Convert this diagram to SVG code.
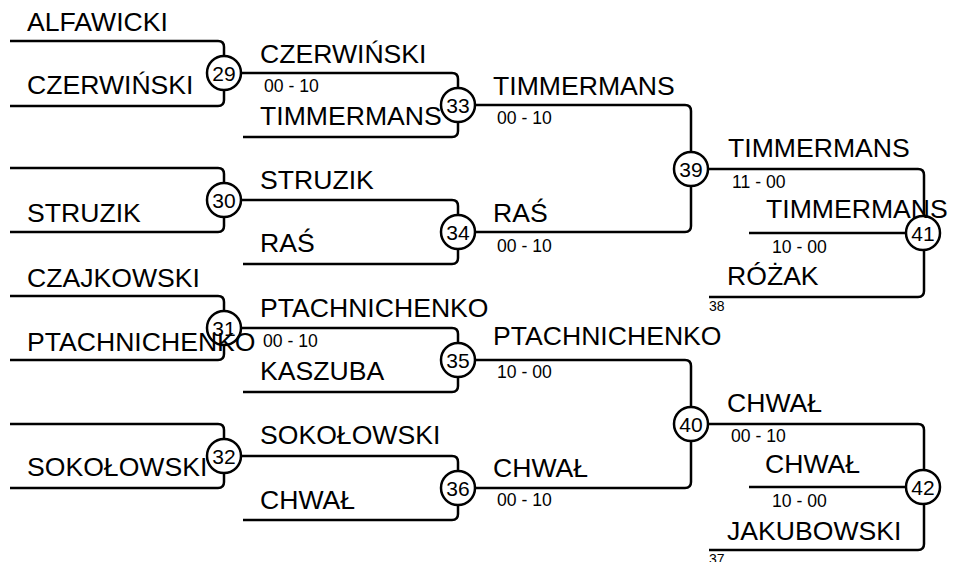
<svg xmlns="http://www.w3.org/2000/svg" width="954" height="562" viewBox="0 0 954 562">
<style>
.c{fill:none;stroke:#000;stroke-width:2.5;stroke-linejoin:round}
.n circle{fill:#fff;stroke:#000;stroke-width:2.5}
.n text{font-family:"Liberation Sans",Arial,sans-serif;font-size:21px;text-anchor:middle;fill:#000}
.t{font-family:"Liberation Sans",Arial,sans-serif;font-size:26.6px;fill:#000}
.s{font-family:"Liberation Sans",Arial,sans-serif;font-size:17.6px;fill:#000}
.m{font-family:"Liberation Sans",Arial,sans-serif;font-size:14px;fill:#000}
</style>
<rect width="954" height="562" fill="#fff"/>
<g id="connectors" class="c">
<path d="M10,41 H218 Q224,41 224,47 V100 Q224,106 218,106 H10"/>
<path d="M10,168 H218 Q224,168 224,174 V226 Q224,232 218,232 H10"/>
<path d="M10,296 H218 Q224,296 224,302 V354 Q224,360 218,360 H10"/>
<path d="M10,424 H218 Q224,424 224,430 V482 Q224,488 218,488 H10"/>
<path d="M224,73 H452 Q458,73 458,79 V131 Q458,137 452,137 H243"/>
<path d="M224,200 H452 Q458,200 458,206 V258 Q458,264 452,264 H243"/>
<path d="M224,328 H452 Q458,328 458,334 V386 Q458,392 452,392 H243"/>
<path d="M224,456 H452 Q458,456 458,462 V514 Q458,520 452,520 H243"/>
<path d="M458,105 H685 Q691,105 691,111 V226 Q691,232 685,232 H458"/>
<path d="M458,360 H685 Q691,360 691,366 V482 Q691,488 685,488 H458"/>
<path d="M691,169 H918 Q924,169 924,175 V291 Q924,297 918,297 H709"/>
<path d="M749,233 H924"/>
<path d="M691,424 H918 Q924,424 924,430 V544 Q924,550 918,550 H709"/>
<path d="M749,487 H924"/>
</g>
<g id="n29" class="n"><circle cx="224" cy="73" r="17"/><text x="224" y="80.5">29</text></g>
<g id="n30" class="n"><circle cx="224" cy="200" r="17"/><text x="224" y="207.5">30</text></g>
<g id="n31" class="n"><circle cx="224" cy="328" r="17"/><text x="224" y="335.5">31</text></g>
<g id="n32" class="n"><circle cx="224" cy="456" r="17"/><text x="224" y="463.5">32</text></g>
<g id="n33" class="n"><circle cx="458" cy="105" r="17"/><text x="458" y="112.5">33</text></g>
<g id="n34" class="n"><circle cx="458" cy="232" r="17"/><text x="458" y="239.5">34</text></g>
<g id="n35" class="n"><circle cx="458" cy="360" r="17"/><text x="458" y="367.5">35</text></g>
<g id="n36" class="n"><circle cx="458" cy="488" r="17"/><text x="458" y="495.5">36</text></g>
<g id="n39" class="n"><circle cx="691" cy="169" r="17"/><text x="691" y="176.5">39</text></g>
<g id="n40" class="n"><circle cx="691" cy="424" r="17"/><text x="691" y="431.5">40</text></g>
<g id="n41" class="n"><circle cx="923" cy="233" r="17"/><text x="923" y="240.5">41</text></g>
<g id="n42" class="n"><circle cx="923" cy="487" r="17"/><text x="923" y="494.5">42</text></g>
<g id="labels">
<text class="t" x="27" y="31">ALFAWICKI</text>
<text class="t" x="27" y="94">CZERWIŃSKI</text>
<text class="t" x="27" y="222">STRUZIK</text>
<text class="t" x="27" y="287">CZAJKOWSKI</text>
<text class="t" x="27" y="351">PTACHNICHENKO</text>
<text class="t" x="27" y="476">SOKOŁOWSKI</text>
<text class="t" x="260" y="63">CZERWIŃSKI</text>
<text class="s" x="264" y="92">00 - 10</text>
<text class="t" x="260" y="125">TIMMERMANS</text>
<text class="t" x="260" y="189">STRUZIK</text>
<text class="t" x="260" y="252">RAŚ</text>
<text class="t" x="260" y="317">PTACHNICHENKO</text>
<text class="s" x="263" y="347">00 - 10</text>
<text class="t" x="260" y="380">KASZUBA</text>
<text class="t" x="260" y="444">SOKOŁOWSKI</text>
<text class="t" x="260" y="509">CHWAŁ</text>
<text class="t" x="493" y="95">TIMMERMANS</text>
<text class="s" x="497" y="124">00 - 10</text>
<text class="t" x="493" y="222">RAŚ</text>
<text class="s" x="497" y="252">00 - 10</text>
<text class="t" x="493" y="345">PTACHNICHENKO</text>
<text class="s" x="497" y="378">10 - 00</text>
<text class="t" x="493" y="477">CHWAŁ</text>
<text class="s" x="497" y="506">00 - 10</text>
<text class="t" x="728" y="157">TIMMERMANS</text>
<text class="s" x="732" y="188">11 - 00</text>
<text class="t" x="766" y="218">TIMMERMANS</text>
<text class="s" x="772" y="253">10 - 00</text>
<text class="t" x="727" y="285">RÓŻAK</text>
<text class="m" x="709" y="311">38</text>
<text class="t" x="727" y="412">CHWAŁ</text>
<text class="s" x="731" y="442">00 - 10</text>
<text class="t" x="765" y="473">CHWAŁ</text>
<text class="s" x="772" y="507">10 - 00</text>
<text class="t" x="727" y="540">JAKUBOWSKI</text>
<text class="m" x="709" y="564">37</text>
</g>
</svg>
